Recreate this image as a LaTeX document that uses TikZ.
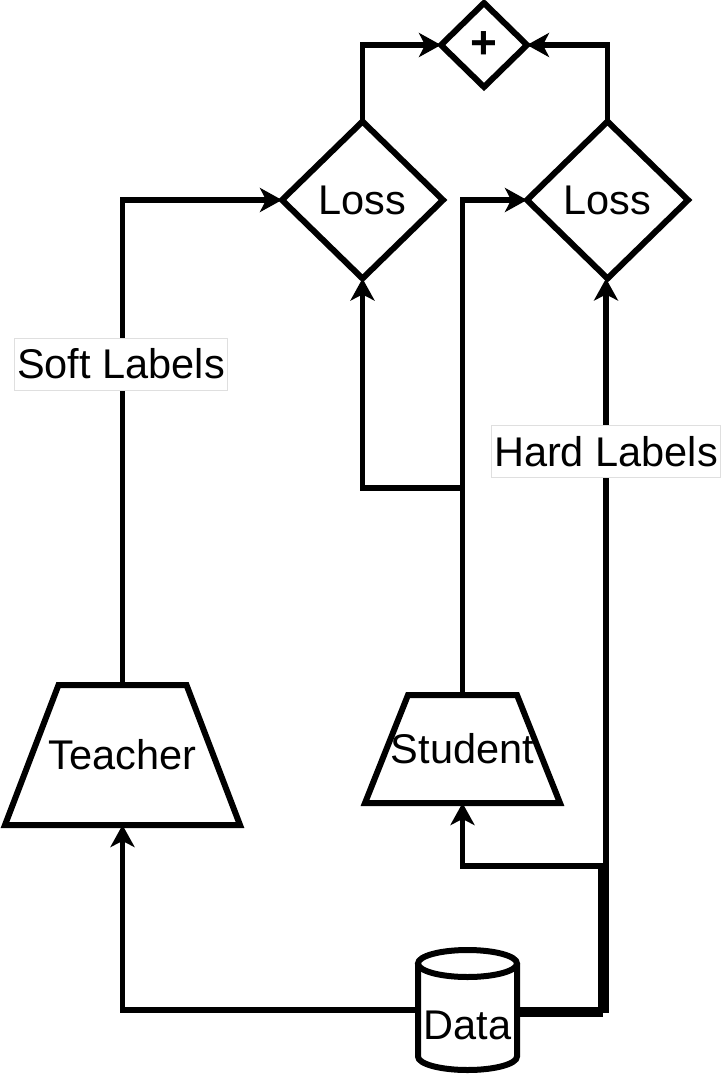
\documentclass[tikz,border=0pt]{standalone}
\usepackage{fontspec}
\setmainfont{Liberation Sans}
\usetikzlibrary{arrows.meta,calc}
\begin{document}
\begin{tikzpicture}[x=1pt,y=1pt,
  box/.style={inner sep=0pt,outer sep=0pt,font=\fontsize{41.5}{48}\selectfont},
  shp/.style={draw=black,line width=6pt,line join=miter},
  conn/.style={draw=black,line width=5.5pt,-{Stealth[length=22pt,width=24pt,inset=6pt]}},
  lbl/.style={fill=white,draw=gray!25,line width=0.8pt,inner xsep=3pt,inner ysep=0pt,minimum height=52pt,font=\fontsize{41.5}{48}\selectfont}]
\useasboundingbox (0,0) rectangle (721,-1075);
% nodes
\node[box,minimum width=86pt,minimum height=84pt] (plus) at (484,-45) {};
\node[box,minimum width=161pt,minimum height=157pt] (loss1) at (362.5,-200) {Loss};
\node[box,minimum width=161pt,minimum height=157pt] (loss2) at (607.5,-200) {Loss};
\node[box,minimum width=235pt,minimum height=140pt] (teacher) at (122.5,-755) {Teacher};
\node[box,minimum width=195pt,minimum height=108pt] (student) at (462.5,-749) {Student};
\node[box,minimum width=99pt,minimum height=120pt] (data) at (467.5,-1010) {};
\node[box] (datatext) at (467.5,-1025) {Data};
% shapes
\draw[shp,fill=white] (plus.north) -- (plus.east) -- (plus.south) -- (plus.west) -- cycle;
\node[box,font=\fontsize{46}{52}\bfseries] (plustext) at (plus) {+};
\draw[shp] (loss1.north) -- (loss1.east) -- (loss1.south) -- (loss1.west) -- cycle;
\draw[shp] (loss2.north) -- (loss2.east) -- (loss2.south) -- (loss2.west) -- cycle;
\draw[shp] ([xshift=53.5pt]teacher.north west) -- ([xshift=-53.5pt]teacher.north east) -- (teacher.south east) -- (teacher.south west) -- cycle;
\draw[shp] ([xshift=43pt]student.north west) -- ([xshift=-43pt]student.north east) -- (student.south east) -- (student.south west) -- cycle;
\draw[shp] ($(data.north)+(0,-13.5)$) ellipse (49.5pt and 13.5pt);
\draw[shp] ($(data.north west)+(0,-13.5)$) -- ($(data.south west)+(0,13.5)$) arc (180:360:49.5pt and 13.5pt) -- ($(data.north east)+(0,-13.5)$);
% coordinates
\coordinate (sj) at (462.5,-488);
\coordinate (sk) at (600.5,-866);
% connectors
\draw[conn] (teacher.north) |- (loss1.west);
\draw[conn] (student.north) |- (loss2.west);
\draw[conn] (student.north) -- (sj) -| (loss1.south);
\draw[conn] (loss1.north) |- (plus.west);
\draw[conn] (loss2.north) |- (plus.east);
\draw[conn] (data.west) -| (teacher.south);
\draw[conn] ([yshift=-4.5pt]data.east) -| (sk) -| (student.south);
\draw[conn] (data.east) -| ([xshift=-1.5pt]loss2.south);
% labels
\node[lbl] (soft) at (121,-364) {Soft Labels};
\node[lbl] (hard) at (606,-451.5) {Hard Labels};
\end{tikzpicture}
\end{document}
